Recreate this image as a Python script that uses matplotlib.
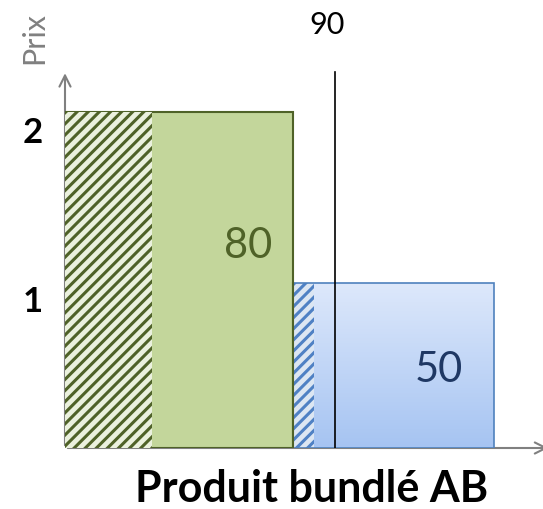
import numpy as np
import matplotlib.pyplot as plt
from matplotlib.colors import LinearSegmentedColormap

plt.rcParams['font.family'] = ['Lato', 'DejaVu Sans']
plt.rcParams['hatch.linewidth'] = 2.2

# quantities (x) and prices (y) of the two bundle parts
products = ['A', 'B']
q_start = [0, 76]
q_end = [76, 143]
hatch_end = [29, 83]
heights = [2.1, 1.03]
surplus = ['80', '50']
line_q = 90
tick_pos = [0.85, 1.906]
tick_labels = ['1', '2']

W, H = 543, 509
fig = plt.figure(figsize=(W / 100, H / 100), dpi=100)
ax = fig.add_axes([65 / W, (H - 448) / H, (W - 65) / W, (448 - 60) / H])
ax.set_xlim(0, (W - 65) / 3)
ax.set_ylim(0, (448 - 60) / 160)
ax.axis('off')

green_edge = '#4f6228'
blue_edge = '#4f81bd'

# green bar (A)
ax.bar(q_start[0], heights[0], width=q_end[0] - q_start[0], align='edge',
       color='#c3d69b', edgecolor=green_edge, linewidth=1.5, zorder=2)
ax.bar(q_start[0], heights[0], width=hatch_end[0] - q_start[0], align='edge',
       color='#ebf1de', edgecolor=green_edge, hatch='///', linewidth=0, zorder=3)

# blue bar (B) with vertical gradient
grad = LinearSegmentedColormap.from_list('bl', ['#a6c4f2', '#dde8fb'])
ax.imshow(np.linspace(0, 1, 100).reshape(-1, 1), cmap=grad, aspect='auto',
          origin='lower', extent=[q_start[1], q_end[1], 0, heights[1]], zorder=2)
ax.bar(q_start[1], heights[1], width=q_end[1] - q_start[1], align='edge',
       color='none', edgecolor=blue_edge, linewidth=1.2, zorder=4)
ax.bar(q_start[1], heights[1], width=hatch_end[1] - q_start[1], align='edge',
       color='#dce6f2', edgecolor='#4f81c4', hatch='///', linewidth=0, zorder=3)
ax.plot([q_end[0], q_end[0]], [0, heights[1]], color=green_edge, lw=1.5, zorder=5)

# surplus labels
ax.text(q_end[0] - 7, 1.19, surplus[0], color=green_edge, fontsize=30,
        ha='right', va='baseline', zorder=6)
ax.text(q_end[1] - 10.3, 0.41, surplus[1], color='#1f3864', fontsize=30,
        ha='right', va='baseline', zorder=6)

# vertical line at 90
ax.plot([line_q, line_q], [0, 2.35], color='black', lw=1.2, zorder=6)
ax.text(line_q - 2.5, 2.59, str(line_q), fontsize=22, ha='center', va='baseline', clip_on=False)

# axes arrows
ax.annotate('', xy=(0, 2.36), xytext=(0, 0), annotation_clip=False,
            arrowprops=dict(arrowstyle='->,head_length=0.8,head_width=0.4', color='#808080', lw=1.5),
            zorder=1)
ax.annotate('', xy=(162, 0), xytext=(0, 0), annotation_clip=False,
            arrowprops=dict(arrowstyle='->,head_length=0.8,head_width=0.4', color='#808080', lw=1.5),
            zorder=1)

for p, lab in zip(tick_pos, tick_labels):
    ax.text(-7.3, p, lab, fontsize=25, fontweight='bold', ha='right', va='baseline', clip_on=False)

fig.text(34 / W, 1 - 38 / H, 'Prix', rotation=90, fontsize=22, color='#808080',
         ha='center', va='center')
fig.text(312 / W, 1 - 502 / H, 'Produit bundlé AB', fontsize=31, fontweight='bold',
         ha='center', va='baseline')

fig.savefig('out.png', dpi=100)
